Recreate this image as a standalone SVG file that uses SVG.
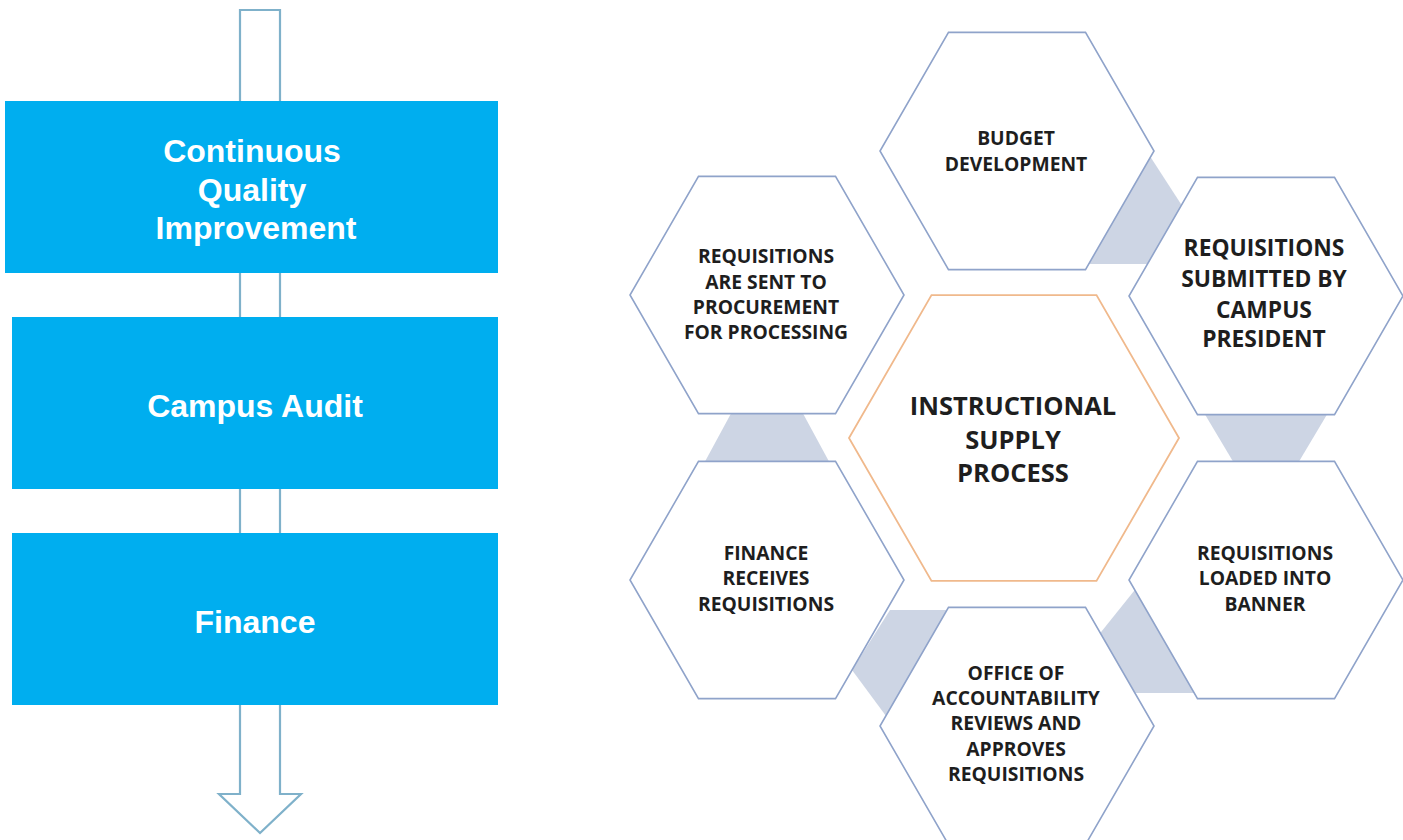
<svg xmlns="http://www.w3.org/2000/svg" width="1403" height="840" viewBox="0 0 1403 840">
<style>
.box{fill:#00aeef}
.bt{font-family:"Liberation Sans",Arial,sans-serif;font-weight:700;font-size:32px;fill:#ffffff;text-anchor:middle}
.hex{fill:#ffffff;stroke:#8fa3ca;stroke-width:1.6}
.chex{fill:#ffffff;stroke:#f0b98c;stroke-width:1.8}
.conn{fill:#cdd5e4;stroke:none}
.ht{font-family:"Open Sans","Liberation Sans",sans-serif;font-weight:700;font-size:19.3px;fill:#1e1e1e;text-anchor:middle}
.big{font-size:22.8px}
.ctr{font-size:25.5px}
</style>
<rect width="1403" height="840" fill="#ffffff"/>
<g id="flow-arrow">
<path d="M240,10 L280,10 L280,794 L301,794 L260,833 L219,794 L240,794 Z" fill="#ffffff" stroke="#7fb1ca" stroke-width="2.2" stroke-linejoin="miter"/>
</g>
<g id="box-cqi">
<rect class="box" x="5" y="101" width="493" height="172"/>
<text class="bt" x="252" y="162">Continuous</text>
<text class="bt" x="252" y="201">Quality</text>
<text class="bt" x="256" y="239">Improvement</text>
</g>
<g id="box-audit">
<rect class="box" x="12" y="317" width="486" height="172"/>
<text class="bt" x="255" y="417">Campus Audit</text>
</g>
<g id="box-finance">
<rect class="box" x="12" y="533" width="486" height="172"/>
<text class="bt" x="255" y="633">Finance</text>
</g>
<g id="connectors">
<polygon class="conn" points="1150.5,157 1181.6,205 1147.5,264 1088.7,264"/>
<polygon class="conn" points="1205,414.6 1327,414.6 1299,461.4 1233,461.4"/>
<polygon class="conn" points="1134.8,590 1194.3,693 1135,693 1100.3,633"/>
<polygon class="conn" points="890,610 947,610 886,716 852,670"/>
<polygon class="conn" points="705,461.4 829,461.4 803,413.6 731,413.6"/>
</g>
<g id="hex-budget">
<polygon class="hex" points="948.5,32.4 1085.5,32.4 1154,151 1085.5,269.6 948.5,269.6 880,151"/>
<text class="ht" x="1016" y="145">BUDGET</text>
<text class="ht" x="1016" y="171">DEVELOPMENT</text>
</g>
<g id="hex-submitted">
<polygon class="hex" points="1197.5,177.4 1334.5,177.4 1403,296 1334.5,414.6 1197.5,414.6 1129,296"/>
<text class="ht big" x="1264" y="256">REQUISITIONS</text>
<text class="ht big" x="1264" y="287">SUBMITTED BY</text>
<text class="ht big" x="1264" y="318">CAMPUS</text>
<text class="ht big" x="1264" y="347">PRESIDENT</text>
</g>
<g id="hex-banner">
<polygon class="hex" points="1197.5,461.4 1334.5,461.4 1403,580 1334.5,698.6 1197.5,698.6 1129,580"/>
<text class="ht" x="1265" y="560">REQUISITIONS</text>
<text class="ht" x="1265" y="585">LOADED INTO</text>
<text class="ht" x="1265" y="611">BANNER</text>
</g>
<g id="hex-office">
<polygon class="hex" points="948.5,607.4 1085.5,607.4 1154,726 1085.5,844.6 948.5,844.6 880,726"/>
<text class="ht" x="1016" y="680">OFFICE  OF</text>
<text class="ht" x="1016" y="705">ACCOUNTABILITY</text>
<text class="ht" x="1016" y="730">REVIEWS AND</text>
<text class="ht" x="1016" y="756">APPROVES</text>
<text class="ht" x="1016" y="781">REQUISITIONS</text>
</g>
<g id="hex-finance">
<polygon class="hex" points="698.5,461.4 835.5,461.4 904,580 835.5,698.6 698.5,698.6 630,580"/>
<text class="ht" x="766" y="560">FINANCE</text>
<text class="ht" x="766" y="585">RECEIVES</text>
<text class="ht" x="766" y="611">REQUISITIONS</text>
</g>
<g id="hex-procurement">
<polygon class="hex" points="698.5,176.4 835.5,176.4 904,295 835.5,413.6 698.5,413.6 630,295"/>
<text class="ht" x="766" y="263">REQUISITIONS</text>
<text class="ht" x="766" y="289">ARE SENT TO</text>
<text class="ht" x="766" y="314">PROCUREMENT</text>
<text class="ht" x="766" y="339">FOR PROCESSING</text>
</g>
<g id="hex-center">
<polygon class="chex" points="931.5,295.1 1096.5,295.1 1179,438 1096.5,580.9 931.5,580.9 849,438"/>
<text class="ht ctr" x="1013" y="415">INSTRUCTIONAL</text>
<text class="ht ctr" x="1013" y="449">SUPPLY</text>
<text class="ht ctr" x="1013" y="482">PROCESS</text>
</g>
</svg>
